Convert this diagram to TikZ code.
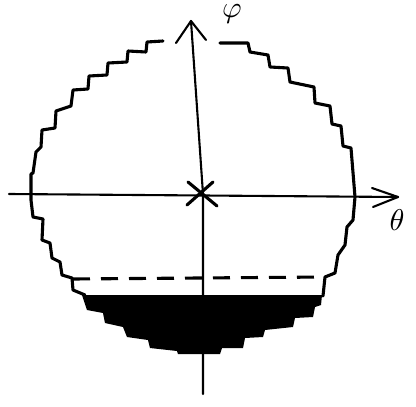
\documentclass[tikz,border=0pt]{standalone}
\usepackage{graphicx}
\begin{document}
\begin{tikzpicture}[x=1pt,y=-1pt,
  outline/.style={line width=3.1pt,line join=round,line cap=round},
  axis/.style={line width=2.1pt,line cap=round,line join=round},
  lbl/.style={inner sep=0pt}]
\useasboundingbox (0,0) rectangle (416,407);
% axis coordinates
\coordinate (vb) at (203,394);
\coordinate (O) at (203,194);
\coordinate (vt) at (191,21);
\coordinate (vl) at (176,43);
\coordinate (vr) at (206,40);
\coordinate (hl) at (9,194);
\coordinate (ht) at (398,197);
\coordinate (hu) at (372,188);
\coordinate (hd) at (373,207);
% filled region
\fill (84,295) -- (322,295) -- (321,305) -- (315,307) -- (313,317) -- (295,318)
  -- (293,327) -- (265,330) -- (263,337) -- (245,338) -- (243,348) -- (222,348)
  -- (220,354) -- (178,354) -- (177,351) -- (150,348) -- (148,340) -- (127,337)
  -- (123,327) -- (105,323) -- (103,313) -- (87,310) -- (82,295) -- cycle;
% axes
\draw[axis] (vb) -- (O) -- (vt);
\draw[axis] (vl) -- (vt) -- (vr);
\draw[axis] (hl) -- (ht);
\draw[axis] (hu) -- (ht) -- (hd);
% star at origin
\draw[outline] (188,182) -- (217,206);
\draw[outline] (187,205) -- (213,182);
% left staircase
\draw[outline] (163,41) -- (147,42) -- (146,52) -- (128,51) -- (127,62) -- (108,63)
  -- (107,75) -- (89,76) -- (88,89) -- (73,90) -- (71,106) -- (56,111) -- (55,128)
  -- (42,130) -- (41,147) -- (36,152) -- (33,173) -- (31,174) -- (31,200)
  -- (33,217) -- (43,219) -- (42,240) -- (50,243) -- (52,258) -- (60,262)
  -- (62,275) -- (72,278) -- (73,290) -- (85,295);
% right staircase
\draw[outline] (220,43) -- (248,43) -- (250,52) -- (268,55) -- (270,67) -- (288,68)
  -- (290,82) -- (314,87) -- (315,103) -- (330,106) -- (332,124) -- (341,126)
  -- (343,146) -- (351,148) -- (355,197) -- (353,220) -- (347,227) -- (345,245)
  -- (338,255) -- (335,273) -- (325,277) -- (323,296);
% dashed line
\draw[outline,line cap=butt,dash pattern=on 17pt off 11pt] (73,279) -- (325,277);
% labels
\node[lbl,anchor=north] (phi) at (232,4) {\scalebox{3}{$\varphi$}};
\node[lbl] (theta) at (397,220) {\scalebox{3}{$\theta$}};
\end{tikzpicture}
\end{document}
